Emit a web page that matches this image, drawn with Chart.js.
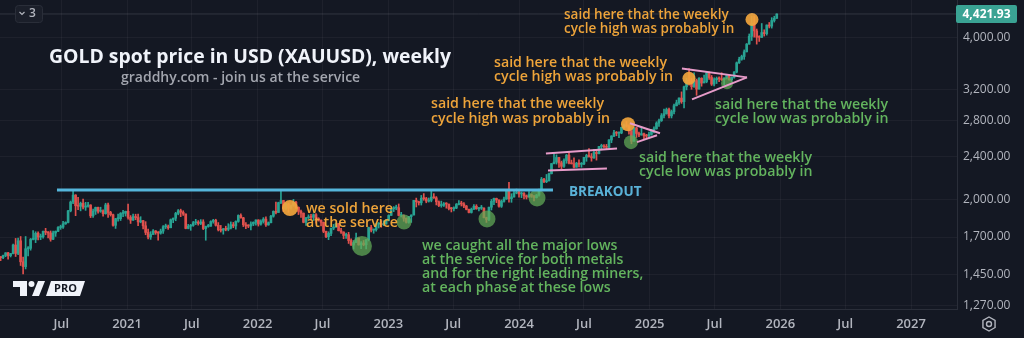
<!DOCTYPE html>
<html lang="en">
<head>
<meta charset="UTF-8">
<title>GOLD spot price in USD (XAUUSD), weekly</title>
<style>
html, body { margin:0; padding:0; background:#141823; overflow:hidden; }
#wrap { width:1024px; height:338px; }
</style>
</head>
<body>
<div id="wrap"><canvas id="chart" width="1024" height="338"></canvas></div>

<script src="https://cdn.jsdelivr.net/npm/chart.js"></script>
<script>
// weekly candles, first week starts Mon 6 Jan 2020 (open = previous close)
const firstWeek = '2020-01-06';
const firstOpen = 1552;

const c2020 = [1562,1557,1571,1589,1570,1584,1643,1585,1673,1529,1498,1617,1620,1683,1683,1728,1700,1702,1743,1735,1730,1684,1730,1743,1771,1774,1799,1810,1902,1975,2035,1944,1940,1964,1933,1940,1950,1862,1900,1930,1899,1902,1879,1951,1889,1871,1788,1839,1839,1881,1883,1898];
const h2020 = [1611,1564,1574,1590,1592,1585,1649,1690,1692,1704,1560,1704,1632,1690,1747,1739,1738,1722,1745,1765,1740,1745,1745,1745,1779,1789,1818,1815,1906,1984,2075,2039,2015,1975,2000,1973,1973,1953,1917,1933,1933,1932,1911,1965,1966,1898,1876,1842,1875,1888,1906,1900];
const l2020 = [1540,1536,1549,1563,1547,1561,1582,1564,1576,1505,1451,1483,1568,1607,1680,1660,1680,1681,1692,1717,1693,1670,1681,1705,1740,1757,1764,1795,1806,1894,1962,1863,1911,1902,1917,1906,1932,1848,1849,1873,1883,1890,1860,1875,1850,1860,1781,1764,1820,1825,1855,1860];

const c2021 = [1849,1828,1856,1848,1814,1824,1784,1734,1700,1719,1745,1733,1729,1744,1777,1777,1769,1831,1843,1881,1903,1891,1877,1764,1781,1787,1808,1812,1802,1814,1763,1779,1781,1817,1827,1788,1754,1750,1761,1757,1767,1793,1783,1818,1865,1846,1792,1783,1782,1798,1811,1829];
const h2021 = [1959,1864,1875,1875,1875,1855,1826,1816,1760,1740,1755,1748,1740,1759,1785,1797,1790,1837,1845,1890,1913,1916,1903,1877,1795,1795,1818,1834,1824,1832,1831,1782,1795,1823,1834,1835,1809,1787,1764,1781,1800,1814,1810,1823,1870,1877,1850,1808,1793,1815,1815,1831];
const l2021 = [1836,1802,1825,1831,1785,1807,1760,1717,1687,1683,1719,1720,1677,1721,1727,1763,1757,1769,1808,1823,1870,1855,1865,1761,1761,1750,1780,1793,1789,1793,1755,1677,1773,1780,1804,1782,1745,1737,1721,1746,1746,1760,1770,1758,1811,1843,1778,1762,1770,1753,1785,1789];

const c2022 = [1797,1818,1836,1791,1808,1859,1898,1889,1970,1988,1921,1958,1925,1947,1974,1931,1897,1883,1811,1846,1853,1850,1871,1840,1827,1811,1742,1703,1727,1766,1775,1802,1747,1737,1712,1717,1675,1643,1661,1695,1644,1657,1645,1681,1771,1751,1754,1797,1797,1793,1798,1824];
const h2022 = [1831,1830,1848,1853,1814,1865,1902,1974,1974,2070,1990,1966,1966,1950,1998,1982,1935,1909,1885,1849,1870,1874,1878,1879,1847,1830,1813,1744,1739,1767,1795,1807,1802,1765,1739,1730,1735,1688,1675,1730,1690,1668,1675,1681,1774,1787,1760,1804,1809,1824,1823,1833];
const l2022 = [1782,1789,1805,1780,1788,1807,1851,1878,1889,1961,1895,1910,1890,1916,1940,1923,1872,1850,1807,1787,1840,1829,1825,1805,1820,1784,1732,1696,1681,1711,1754,1771,1745,1727,1688,1691,1654,1640,1615,1660,1642,1617,1638,1616,1672,1737,1728,1744,1767,1773,1785,1797];

const c2023 = [1865,1920,1926,1928,1865,1865,1842,1811,1856,1868,1989,1978,1969,2007,2004,1983,1990,2017,2011,1978,1946,1948,1961,1958,1921,1919,1925,1955,1962,1959,1942,1914,1889,1915,1940,1919,1924,1925,1848,1833,1932,1981,2006,1993,1940,1981,2001,2072,2004,2019,2053,2063];
const h2023 = [1870,1922,1937,1949,1959,1890,1870,1846,1858,1870,1990,2009,1983,2032,2048,2015,2010,2079,2048,2022,1985,1983,1971,1970,1959,1930,1935,1963,1987,1982,1970,1947,1917,1925,1953,1953,1932,1947,1926,1851,1933,1997,2009,2009,1994,1993,2018,2075,2149,2047,2070,2088];
const l2023 = [1822,1865,1896,1911,1861,1853,1819,1805,1804,1810,1869,1934,1950,1950,1990,1969,1975,1977,2006,1951,1937,1932,1938,1924,1910,1893,1902,1920,1952,1942,1929,1910,1885,1884,1914,1915,1901,1913,1846,1810,1823,1909,1954,1970,1932,1930,1975,1998,1974,1973,2016,2046];

const c2024 = [2045,2049,2029,2018,2039,2024,2013,2035,2083,2179,2155,2165,2230,2329,2344,2391,2337,2302,2360,2415,2334,2327,2293,2333,2322,2326,2392,2411,2400,2387,2443,2431,2507,2512,2503,2497,2577,2621,2658,2653,2656,2721,2747,2736,2684,2563,2715,2650,2633,2648,2622,2621,2640];
const h2024 = [2079,2062,2057,2036,2065,2045,2032,2041,2088,2195,2186,2223,2236,2330,2431,2418,2392,2354,2378,2422,2450,2364,2387,2342,2368,2340,2392,2424,2483,2432,2477,2463,2509,2531,2528,2529,2581,2625,2685,2672,2670,2722,2758,2790,2750,2680,2721,2721,2666,2726,2655,2640,2665];
const l2024 = [2016,2013,2002,2001,2016,2015,1984,2009,2025,2080,2146,2146,2160,2228,2325,2324,2292,2277,2291,2332,2326,2325,2286,2293,2295,2293,2318,2352,2394,2353,2382,2364,2428,2470,2491,2472,2485,2547,2615,2624,2604,2647,2708,2724,2643,2536,2563,2605,2613,2630,2583,2600,2597];

const c2025 = [2690,2703,2770,2800,2861,2883,2936,2858,2910,2984,3023,3084,3037,3237,3327,3319,3240,3325,3205,3357,3289,3310,3433,3368,3274,3337,3355,3350,3337,3363,3398,3336,3371,3448,3587,3643,3685,3760,3886,4018,4251,4113,4002,4000,4084,4065,4218,4198,4300,4340,4421.93];
const h2025 = [2697,2726,2786,2817,2886,2942,2955,2956,2930,3005,3057,3087,3167,3245,3358,3500,3353,3435,3345,3366,3365,3403,3446,3452,3398,3365,3375,3377,3438,3363,3409,3404,3378,3453,3600,3674,3707,3791,3897,4059,4380,4381,4146,4029,4245,4133,4219,4264,4353,4380,4425];
const l2025 = [2630,2656,2700,2730,2790,2832,2879,2833,2832,2880,2982,3000,3015,2957,3194,3260,3202,3229,3121,3205,3245,3295,3293,3340,3255,3248,3282,3309,3325,3268,3347,3331,3311,3357,3436,3577,3627,3640,3758,3884,3947,4004,3886,3931,3997,4022,4039,4165,4162,4271,4338];

// axes
const yTicks = [1270, 1450, 1700, 2000, 2400, 2800, 3200, 4000];
const xTickDates = ['2020-07-01','2021-01-01','2021-07-01','2022-01-01','2022-07-01','2023-01-01','2023-07-01','2024-01-01','2024-07-01','2025-01-01','2025-07-01','2026-01-01','2026-07-01','2027-01-01'];
const xTickLabels = ['Jul','2021','Jul','2022','Jul','2023','Jul','2024','Jul','2025','Jul','2026','Jul','2027'];

// annotations (decimal year, price)
const breakoutLine = [[2020.464, 2079], [2024.260, 2079]];
const pinkLines = [
  [[2024.206, 2432], [2024.750, 2485]],
  [[2024.222, 2261], [2024.673, 2280]],
  [[2024.849, 2769], [2025.079, 2653]],
  [[2024.903, 2553], [2025.056, 2630]],
  [[2025.247, 3502], [2025.745, 3370]],
  [[2025.324, 3067], [2025.745, 3370]]
];
const orangeDots = [[2022.247, 1925, 8], [2024.834, 2757, 7], [2025.301, 3356, 6.5], [2025.783, 4319, 6.5]];
const greenDots = [[2022.798, 1636, 10], [2023.120, 1813, 7.5], [2023.755, 1836, 8.5], [2024.138, 2009, 8.5], [2024.857, 2553, 7], [2025.592, 3285, 6]];

const BG = '#141823';
const UP = '#28a393';
const DOWN = '#e0514d';
const ORANGE = '#eea43a';
const GREEN = '#63b45e';

function toYear(str) {
  const d = new Date(str + 'T00:00:00Z');
  const y = d.getUTCFullYear();
  const a = Date.UTC(y, 0, 1), b = Date.UTC(y + 1, 0, 1);
  return y + (d.getTime() - a) / (b - a);
}
function dayToYear(ms) {
  const y = new Date(ms).getUTCFullYear();
  const a = Date.UTC(y, 0, 1), b = Date.UTC(y + 1, 0, 1);
  return y + (ms - a) / (b - a);
}

const closes = [...c2020, ...c2021, ...c2022, ...c2023, ...c2024, ...c2025];
const highs = [...h2020, ...h2021, ...h2022, ...h2023, ...h2024, ...h2025];
const lows = [...l2020, ...l2021, ...l2022, ...l2023, ...l2024, ...l2025];
const opens = [firstOpen, ...closes.slice(0, -1)];
const t0 = new Date(firstWeek + 'T00:00:00Z').getTime();
const weeks = closes.map((_, i) => dayToYear(t0 + i * 7 * 86400000));
const candleColor = closes.map((c, i) => c >= opens[i] ? UP : DOWN);
const lastClose = closes[closes.length - 1];

const xMin = 2020.028, xMax = 2027.352;
const xTickVals = xTickDates.map(toYear);

const lineSet = (pts, color, width) => ({
  type: 'line',
  data: pts.map(p => ({ x: p[0], y: p[1] })),
  borderColor: color, borderWidth: width,
  pointRadius: 0, fill: false, order: 0
});
const dotSet = (pts, color) => ({
  type: 'line', showLine: false,
  data: pts.map(p => ({ x: p[0], y: p[1] })),
  pointRadius: pts.map(p => p[2]),
  pointBackgroundColor: color, pointBorderWidth: 0, order: 0
});

const texts = [
  { t: 'GOLD spot price in USD (XAUUSD), weekly', x: 49, y: 57, c: '#f0f3fa', f: 'bold 19.4px "Open Sans"' },
  { t: 'graddhy.com - join us at the service', x: 121, y: 78, c: '#a3a6af', f: '600 14px "Open Sans"' },
  { t: 'said here that the weekly', x: 564, y: 15, c: ORANGE, f: '600 13.5px "Open Sans"' },
  { t: 'cycle high was probably in', x: 564, y: 29, c: ORANGE, f: '600 13.5px "Open Sans"' },
  { t: 'said here that the weekly', x: 494, y: 63, c: ORANGE },
  { t: 'cycle high was probably in', x: 494, y: 77, c: ORANGE },
  { t: 'said here that the weekly', x: 431, y: 104, c: ORANGE },
  { t: 'cycle high was probably in', x: 431, y: 119, c: ORANGE },
  { t: 'said here that the weekly', x: 715, y: 105, c: GREEN },
  { t: 'cycle low was probably in', x: 715, y: 119, c: GREEN },
  { t: 'said here that the weekly', x: 639, y: 158, c: GREEN },
  { t: 'cycle low was probably in', x: 639, y: 172, c: GREEN },
  { t: 'BREAKOUT', x: 569, y: 192, c: '#5ab2d8', f: 'bold 13.5px "Open Sans"' },
  { t: 'we sold here', x: 306, y: 209, c: ORANGE },
  { t: 'at the service', x: 306, y: 223, c: ORANGE },
  { t: 'we caught all the major lows', x: 422, y: 246, c: GREEN },
  { t: 'at the service for both metals', x: 422, y: 260, c: GREEN },
  { t: 'and for the right leading miners,', x: 422, y: 274, c: GREEN },
  { t: 'at each phase at these lows', x: 422, y: 288, c: GREEN }
];

const overlay = {
  id: 'overlay',
  beforeDraw(chart) {
    const ctx = chart.ctx;
    ctx.save();
    ctx.fillStyle = BG;
    ctx.fillRect(0, 0, chart.width, chart.height);
    ctx.restore();
  },
  afterDraw(chart) {
    const ctx = chart.ctx;
    ctx.save();
    ctx.textBaseline = 'middle';
    ctx.textAlign = 'left';
    texts.forEach(o => {
      ctx.font = o.f || '600 14.2px "Open Sans"';
      ctx.fillStyle = o.c;
      ctx.fillText(o.t, o.x, o.y);
    });

    // last price tag
    const py = chart.scales.y.getPixelForValue(lastClose);
    ctx.fillStyle = '#3aa394';
    ctx.beginPath(); ctx.roundRect(956, py - 9, 61, 18, 2); ctx.fill();
    ctx.fillStyle = '#ffffff';
    ctx.font = 'bold 12px "Open Sans"';
    ctx.textAlign = 'center';
    ctx.fillText(lastClose.toLocaleString('en-US', { minimumFractionDigits: 2 }), 986.5, py + 0.5);

    // top-left box "v 3"
    ctx.fillStyle = '#1b1f2a';
    ctx.strokeStyle = '#2a2e39';
    ctx.lineWidth = 1;
    ctx.beginPath(); ctx.roundRect(15.5, 5.5, 27, 17, 3); ctx.fill(); ctx.stroke();
    ctx.strokeStyle = '#b2b5be'; ctx.lineWidth = 1.2;
    ctx.beginPath(); ctx.moveTo(19.5, 12); ctx.lineTo(22, 14.5); ctx.lineTo(24.5, 12); ctx.stroke();
    ctx.fillStyle = '#b2b5be';
    ctx.font = '600 12px "Open Sans"';
    ctx.textAlign = 'left';
    ctx.fillText('3', 29, 14);

    // TV PRO logo
    ctx.fillStyle = '#f0f3fa';
    ctx.fillRect(13, 281, 14, 6);
    ctx.fillRect(20, 281, 7, 15);
    ctx.beginPath(); ctx.arc(31.5, 284, 3, 0, Math.PI * 2); ctx.fill();
    ctx.beginPath(); ctx.moveTo(38, 281); ctx.lineTo(45, 281); ctx.lineTo(39, 296); ctx.lineTo(32, 296); ctx.closePath(); ctx.fill();
    ctx.beginPath(); ctx.moveTo(51, 281); ctx.lineTo(85, 281); ctx.lineTo(80, 296); ctx.lineTo(46, 296); ctx.closePath(); ctx.fill();
    ctx.fillStyle = BG;
    ctx.font = 'bold 11px "Open Sans"';
    ctx.textAlign = 'center';
    ctx.fillText('PRO', 65.5, 289);

    // settings icon
    ctx.strokeStyle = '#b2b5be'; ctx.lineWidth = 1.4;
    ctx.beginPath();
    for (let k = 0; k < 6; k++) {
      const a = Math.PI / 6 + k * Math.PI / 3;
      const px = 989 + 7 * Math.cos(a), qy = 324 + 7 * Math.sin(a);
      if (k === 0) ctx.moveTo(px, qy); else ctx.lineTo(px, qy);
    }
    ctx.closePath(); ctx.stroke();
    ctx.beginPath(); ctx.arc(989, 324, 2.5, 0, Math.PI * 2); ctx.stroke();
    ctx.restore();
  }
};

new Chart(document.getElementById('chart'), {
  type: 'bar',
  data: {
    datasets: [
      lineSet([[xMin, lastClose], [xMax, lastClose]], 'rgba(200,205,215,0.16)', 1),
      lineSet(breakoutLine, '#55b6dc', 3),
      ...pinkLines.map(p => lineSet(p, '#e79bc9', 2)),
      dotSet(greenDots, 'rgba(98,172,88,0.72)'),
      dotSet(orangeDots, 'rgba(242,165,60,0.92)'),
      {
        label: 'body',
        data: weeks.map((x, i) => ({ x: x, y: [opens[i], closes[i]] })),
        backgroundColor: candleColor,
        barThickness: 2, minBarLength: 1, grouped: false, order: 1
      },
      {
        label: 'wick',
        data: weeks.map((x, i) => ({ x: x, y: [lows[i], highs[i]] })),
        backgroundColor: candleColor,
        barThickness: 1, grouped: false, order: 2
      }
    ]
  },
  options: {
    responsive: false,
    animation: false,
    layout: { padding: 0, autoPadding: false },
    plugins: { legend: { display: false }, tooltip: { enabled: false } },
    scales: {
      x: {
        type: 'linear', min: xMin, max: xMax, offset: false,
        afterBuildTicks: s => { s.ticks = xTickVals.map(v => ({ value: v })); },
        afterFit: s => { s.height = 29; s.paddingLeft = 0; s.paddingRight = 0; },
        grid: { color: 'rgba(255,255,255,0.045)', drawTicks: false, offset: false },
        border: { display: true, color: '#2a2e39' },
        ticks: {
          color: '#b2b5be', padding: 7, maxRotation: 0, autoSkip: false,
          font: { family: 'Open Sans', size: 13, weight: '600' },
          callback: (v, i) => xTickLabels[i]
        }
      },
      y: {
        type: 'logarithmic', position: 'right', min: 1249, max: 4695,
        afterBuildTicks: s => { s.ticks = yTicks.map(v => ({ value: v })); },
        afterFit: s => { s.width = 67; s.paddingTop = 0; s.paddingBottom = 0; },
        grid: { color: 'rgba(255,255,255,0.045)', drawTicks: false },
        border: { display: true, color: '#2a2e39' },
        ticks: {
          color: '#b2b5be', padding: 6, autoSkip: false,
          font: { family: 'Open Sans', size: 12 },
          callback: v => Number(v).toLocaleString('en-US', { minimumFractionDigits: 2, maximumFractionDigits: 2 })
        }
      }
    }
  },
  plugins: [overlay]
});
</script>
</body>
</html>
